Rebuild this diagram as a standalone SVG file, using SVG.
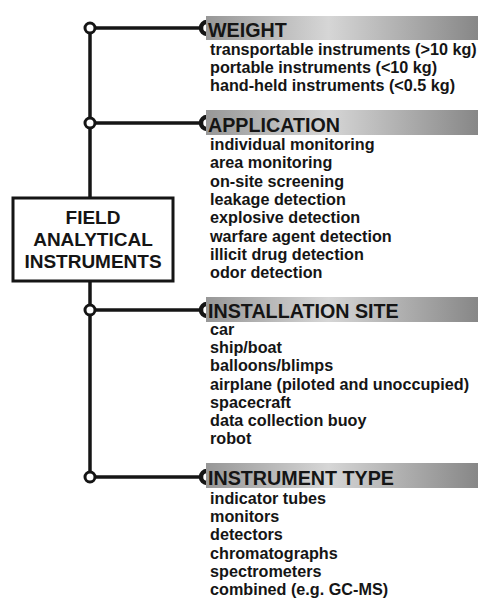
<svg xmlns="http://www.w3.org/2000/svg" width="478" height="598" viewBox="0 0 478 598">
<defs>
<linearGradient id="bar" x1="0" y1="0" x2="1" y2="0">
<stop offset="0" stop-color="#979797"/>
<stop offset="0.45" stop-color="#d6d6d6"/>
<stop offset="1" stop-color="#878787"/>
</linearGradient>
</defs>
<style>
.ln{stroke:#151515;stroke-width:3.5;fill:none}
.dot{fill:#fff;stroke:#151515;stroke-width:3}
.cap{fill:none;stroke:#151515;stroke-width:4.5}
.bar{fill:url(#bar)}
.hd{font-family:"Liberation Sans",Arial,sans-serif;font-weight:bold;font-size:19.7px;fill:#151515}
.it{font-family:"Liberation Sans",Arial,sans-serif;font-weight:bold;font-size:16.2px;fill:#151515}
.bx{font-family:"Liberation Sans",Arial,sans-serif;font-weight:bold;font-size:19px;fill:#151515;text-anchor:middle}
</style>
<rect width="478" height="598" fill="#fff"/>
<g id="connectors">
<line class="ln" x1="90" y1="28" x2="90" y2="477"/>
<line class="ln" x1="90" y1="28" x2="203" y2="28"/>
<line class="ln" x1="90" y1="123" x2="203" y2="123"/>
<line class="ln" x1="90" y1="310" x2="203" y2="310"/>
<line class="ln" x1="90" y1="477" x2="203" y2="477"/>
<circle class="dot" cx="90" cy="28" r="5"/>
<circle class="dot" cx="90" cy="123" r="5"/>
<circle class="dot" cx="90" cy="310" r="5"/>
<circle class="dot" cx="90" cy="477" r="5"/>
<path class="cap" d="M207,22 A6,6 0 0 0 207,34"/>
<path class="cap" d="M207,117 A6,6 0 0 0 207,129"/>
<path class="cap" d="M207,304 A6,6 0 0 0 207,316"/>
<path class="cap" d="M207,471 A6,6 0 0 0 207,483"/>
</g>
<g id="root">
<rect x="13" y="198" width="160" height="83" fill="#fff" stroke="#151515" stroke-width="3"/>
<text class="bx" x="93" y="224">FIELD</text>
<text class="bx" x="93" y="246">ANALYTICAL</text>
<text class="bx" x="93" y="268">INSTRUMENTS</text>
</g>
<g id="weight">
<rect class="bar" x="206" y="16" width="272" height="24"/>
<text class="hd" x="208" y="36.5">WEIGHT</text>
<text class="it" x="210" y="55">transportable instruments (&gt;10 kg)</text>
<text class="it" x="210" y="73">portable instruments (&lt;10 kg)</text>
<text class="it" x="210" y="91">hand-held instruments (&lt;0.5 kg)</text>
</g>
<g id="application">
<rect class="bar" x="206" y="110" width="272" height="25"/>
<text class="hd" x="208" y="131.5">APPLICATION</text>
<text class="it" x="210" y="150">individual monitoring</text>
<text class="it" x="210" y="168.3">area monitoring</text>
<text class="it" x="210" y="186.6">on-site screening</text>
<text class="it" x="210" y="204.9">leakage detection</text>
<text class="it" x="210" y="223.2">explosive detection</text>
<text class="it" x="210" y="241.5">warfare agent detection</text>
<text class="it" x="210" y="259.8">illicit drug detection</text>
<text class="it" x="210" y="278.1">odor detection</text>
</g>
<g id="installation">
<rect class="bar" x="206" y="297" width="272" height="25"/>
<text class="hd" x="208" y="317.5">INSTALLATION SITE</text>
<text class="it" x="210" y="335">car</text>
<text class="it" x="210" y="353.2">ship/boat</text>
<text class="it" x="210" y="371.4">balloons/blimps</text>
<text class="it" x="210" y="389.6">airplane (piloted and unoccupied)</text>
<text class="it" x="210" y="407.8">spacecraft</text>
<text class="it" x="210" y="426">data collection buoy</text>
<text class="it" x="210" y="444.2">robot</text>
</g>
<g id="type">
<rect class="bar" x="206" y="463" width="272" height="25"/>
<text class="hd" x="208" y="485">INSTRUMENT TYPE</text>
<text class="it" x="210" y="504">indicator tubes</text>
<text class="it" x="210" y="522.2">monitors</text>
<text class="it" x="210" y="540.4">detectors</text>
<text class="it" x="210" y="558.6">chromatographs</text>
<text class="it" x="210" y="576.8">spectrometers</text>
<text class="it" x="210" y="595">combined (e.g. GC-MS)</text>
</g>
</svg>
